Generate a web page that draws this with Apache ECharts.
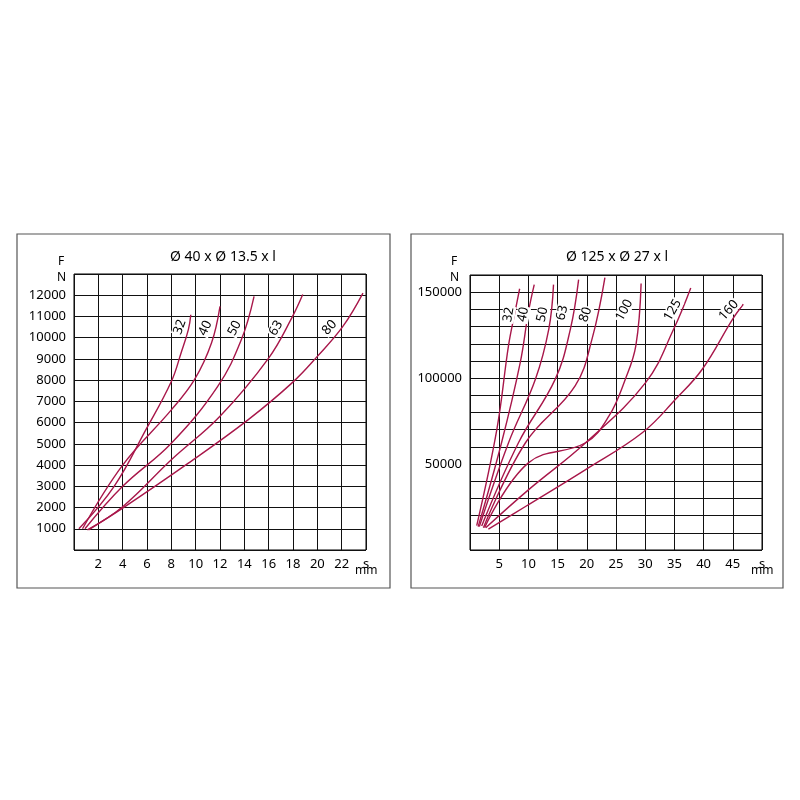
<!DOCTYPE html>
<html>
<head>
<meta charset="utf-8">
<script src="https://cdn.jsdelivr.net/npm/echarts@6/dist/echarts.min.js"></script>
<style>html,body{margin:0;padding:0;background:#fff}#main{width:800px;height:800px}</style>
</head>
<body>
<div id="main"></div>
<script>
// left chart: Ø 40 x Ø 13.5 x l
var leftNames = ['32', '40', '50', '63', '80'];
var left32 = [[0.4,1000],[3.3,3000],[5.9,5660],[8.0,7940],[8.8,9280],[9.4,10380],[9.6,11080]];
var left40 = [[0.7,1000],[4.0,4000],[8.0,6600],[9.9,8020],[11.3,9750],[12.0,11480]];
var left50 = [[0.9,1000],[4.0,3000],[8.0,5030],[11.8,7700],[13.75,9900],[14.8,11950]];
var left63 = [[1.1,950],[4.0,2040],[8.0,4250],[12.0,6300],[16.0,9040],[17.9,10930],[18.8,12030]];
var left80 = [[1.2,950],[4.0,1970],[9.4,4090],[14.3,6130],[17.9,7860],[20.0,9120],[22.1,10530],[23.75,12100]];
var leftLabelPos = [[8.7,10500,70],[10.8,10450,65],[13.2,10450,62],[16.6,10450,58],[21.0,10480,48]];

// right chart: Ø 125 x Ø 27 x l
var rightNames = ['32', '40', '50', '63', '80', '100', '125', '160'];
var right32 = [[1.15,14200],[4.6,70200],[6.6,119000],[7.7,138400],[8.5,152000]];
var right40 = [[1.4,13600],[5.4,62400],[8.6,109000],[10.0,138400],[11.0,154400]];
var right50 = [[1.6,13600],[6.6,62400],[11.2,99400],[13.5,128700],[14.3,154400]];
var right63 = [[2.0,14000],[8.3,62400],[14.6,99400],[17.2,128700],[18.6,157300]];
var right80 = [[2.3,13000],[9.5,62400],[18.0,95500],[20.9,122800],[23.1,158500]];
var right100 = [[2.5,13000],[10.0,50700],[19.8,62400],[23.8,78000],[26.6,99400],[28.4,118900],[29.3,155000]];
var right125 = [[2.7,13000],[10.0,35000],[19.8,62400],[30.1,97500],[34.9,128700],[37.8,152400]];
var right160 = [[3.15,12100],[9.5,25300],[19.8,46800],[29.5,68200],[35.2,87700],[39.8,105300],[45.0,134500],[46.8,143000]];
var rightLabelPos = [[6.6,137000,80],[9.1,137000,78],[12.4,137000,78],[15.8,138000,76],[19.8,137000,72],[26.4,139500,62],[34.7,139500,60],[44.3,139500,48]];

var leftData = [left32, left40, left50, left63, left80];
var rightData = [right32, right40, right50, right63, right80, right100, right125, right160];

var lineColor = '#a8174a';
var font = 'Noto Sans';

function makeSeries(names, data, labels, idx) {
  return names.map(function (n, i) {
    return {
      type: 'line', xAxisIndex: idx, yAxisIndex: idx, data: data[i],
      smooth: 0.4, symbol: 'none', silent: true,
      lineStyle: {color: lineColor, width: 1.4},
      markPoint: {
        symbol: 'circle', symbolSize: 0, silent: true,
        data: [{coord: [labels[i][0], labels[i][1]], value: n,
          label: {show: true, formatter: n, rotate: labels[i][2], color: '#000',
            fontSize: 13, fontFamily: font, backgroundColor: '#fff', padding: [0, 1]}}]
      }
    };
  });
}

function axisBase() {
  return {
    axisLine: {show: false}, axisTick: {show: false},
    splitLine: {show: true, lineStyle: {color: '#111', width: 1}},
    axisLabel: {color: '#000', fontSize: 13, fontFamily: font}
  };
}

var xl = axisBase(), yl = axisBase(), xr = axisBase(), yr = axisBase();
Object.assign(xl, {type: 'value', gridIndex: 0, min: 0, max: 24, interval: 2});
xl.axisLabel.formatter = function (v) { return v === 0 ? '' : (v === 24 ? 's' : v); };
Object.assign(yl, {type: 'value', gridIndex: 0, min: 0, max: 13000, interval: 1000});
yl.axisLabel.formatter = function (v) { return (v === 0 || v === 13000) ? '' : v; };
Object.assign(xr, {type: 'value', gridIndex: 1, min: 0, max: 50, interval: 5});
xr.axisLabel.formatter = function (v) { return v === 0 ? '' : (v === 50 ? 's' : v); };
Object.assign(yr, {type: 'value', gridIndex: 1, min: 0, max: 160000, interval: 10000});
yr.axisLabel.formatter = function (v) { return (v > 0 && v % 50000 === 0) ? v : ''; };

var chart = echarts.init(document.getElementById('main'));
chart.setOption({
  animation: false,
  title: [
    {text: 'Ø 40 x Ø 13.5 x l', left: 218, top: 245, textAlign: 'center',
      textStyle: {fontSize: 14, fontWeight: 'normal', fontFamily: font, color: '#000'}},
    {text: 'Ø 125 x Ø 27 x l', left: 612, top: 245, textAlign: 'center',
      textStyle: {fontSize: 14, fontWeight: 'normal', fontFamily: font, color: '#000'}}
  ],
  grid: [
    {left: 74, right: 434, top: 274, bottom: 250, show: true, borderColor: '#000', borderWidth: 1},
    {left: 470, right: 38, top: 275, bottom: 250, show: true, borderColor: '#000', borderWidth: 1}
  ],
  xAxis: [xl, xr],
  yAxis: [yl, yr],
  graphic: [
    {type: 'rect', shape: {x: 17, y: 234, width: 373, height: 354}, style: {fill: 'none', stroke: '#555', lineWidth: 1.2}},
    {type: 'rect', shape: {x: 411, y: 234, width: 372, height: 354}, style: {fill: 'none', stroke: '#555', lineWidth: 1.2}},
    {type: 'text', x: 58, y: 256, style: {text: 'F', fontSize: 12, fontFamily: font, fill: '#000'}},
    {type: 'text', x: 57, y: 272, style: {text: 'N', fontSize: 12, fontFamily: font, fill: '#000'}},
    {type: 'text', x: 355, y: 565, style: {text: 'mm', fontSize: 12, fontFamily: font, fill: '#000'}},
    {type: 'text', x: 451, y: 256, style: {text: 'F', fontSize: 12, fontFamily: font, fill: '#000'}},
    {type: 'text', x: 450, y: 272, style: {text: 'N', fontSize: 12, fontFamily: font, fill: '#000'}},
    {type: 'text', x: 751, y: 565, style: {text: 'mm', fontSize: 12, fontFamily: font, fill: '#000'}}
  ],
  series: makeSeries(leftNames, leftData, leftLabelPos, 0).concat(makeSeries(rightNames, rightData, rightLabelPos, 1))
});
</script>
</body>
</html>
